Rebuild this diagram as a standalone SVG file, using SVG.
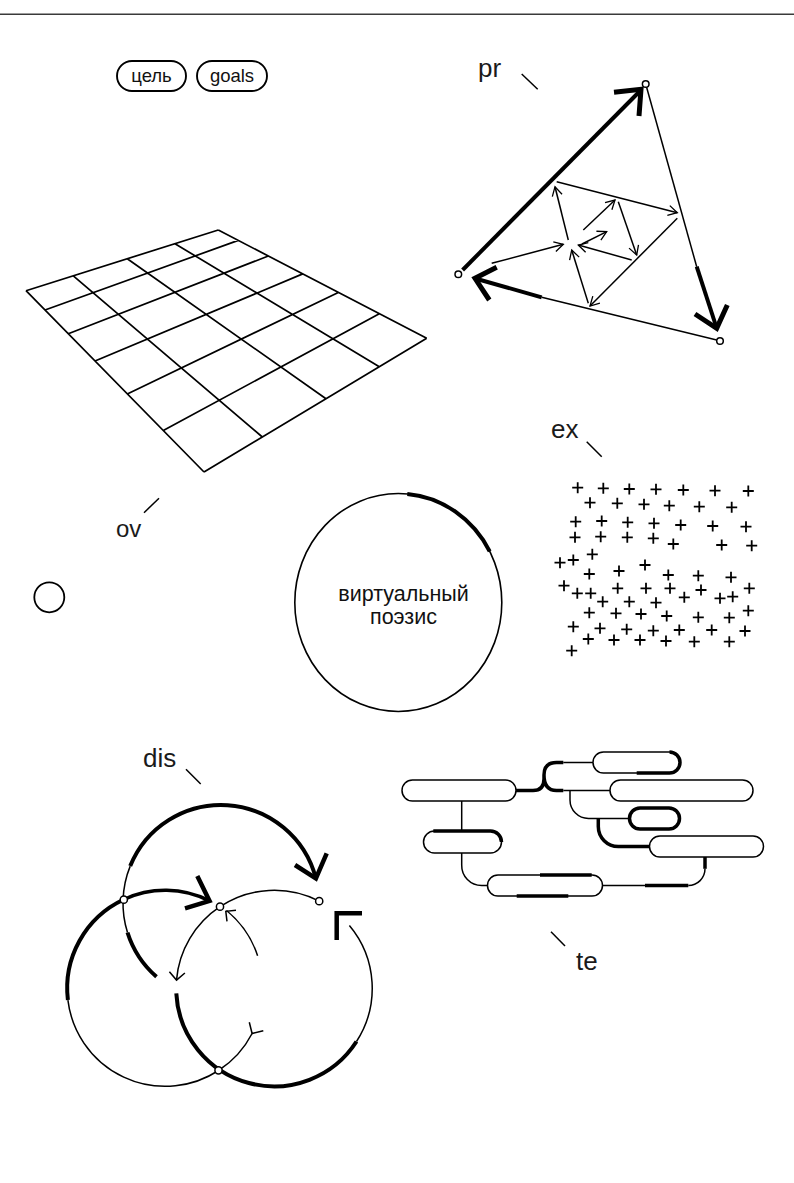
<svg xmlns="http://www.w3.org/2000/svg" xmlns:xlink="http://www.w3.org/1999/xlink" width="794" height="1183" viewBox="0 0 794 1183">
<style>
.t{fill:none;stroke:#000;stroke-width:1.5;stroke-linecap:butt}
.k{fill:none;stroke:#000;stroke-width:4;stroke-linecap:butt}
.k35{fill:none;stroke:#000;stroke-width:3.5;stroke-linecap:butt}
.h{fill:none;stroke:#000;stroke-width:4.5;stroke-linejoin:miter;stroke-linecap:butt}
.n{fill:#fff;stroke:#000;stroke-width:1.5}
.lbl{font-family:"Liberation Sans",Arial,sans-serif;font-size:26px;fill:#1a1a1a}
.pl{font-family:"Liberation Sans",Arial,sans-serif;font-size:18.5px;fill:#111;text-anchor:middle}
.pill{fill:#fff;stroke:#000;stroke-width:1.5}
.pillb{fill:#fff;stroke:#000;stroke-width:1.9}
.pillk{fill:#fff;stroke:#000;stroke-width:3.5}
.grid{fill:none;stroke:#000;stroke-width:1.7}
</style>
<defs>
<marker id="ah" markerUnits="userSpaceOnUse" markerWidth="14" markerHeight="14" viewBox="-11 -7 12 14" refX="0" refY="0" orient="auto">
<path d="M-9,-5 L0,0 L-9,5" fill="none" stroke="#000" stroke-width="1.3"/>
</marker>
<path id="plus" d="M-5.5,0 H5.5 M0,-5.5 V5.5" fill="none" stroke="#000" stroke-width="1.8"/>
</defs>

<rect width="794" height="1183" fill="#fff"/>
<g id="top-rule"><line x1="0" y1="14.3" x2="794" y2="14.3" stroke="#3a3a3a" stroke-width="1.4"/></g>

<g id="pill-cel">
<rect x="117" y="61" width="69" height="30" rx="15" class="pillb"/>
<text x="151.5" y="82" class="pl">цель</text>
</g>
<g id="pill-goals">
<rect x="197" y="61" width="70" height="30" rx="15" class="pillb"/>
<text x="232" y="81.5" class="pl">goals</text>
</g>

<g id="label-pr">
<text x="478" y="77" class="lbl">pr</text>
<line x1="521.7" y1="74" x2="537.7" y2="89.3" class="t"/>
</g>

<g id="pr-diagram">
<path d="M462.6,270 L639.5,91.5" class="k"/>
<path d="M614,92.3 L641,89.3 L639,116" class="h" style="stroke-width:5"/>
<path d="M646.6,87.3 L696.7,266.7" class="t"/>
<path d="M696.7,266.7 L716,326" class="k"/>
<path d="M695,314 L716.7,328.3 L727.3,305" class="h" style="stroke-width:5"/>
<path d="M716.7,340 L541.7,297.3" class="t"/>
<path d="M541.7,297.3 L477,279" class="k"/>
<path d="M496.7,267.3 L475,278.3 L489.3,300" class="h" style="stroke-width:5"/>
<circle cx="645.7" cy="84" r="3.3" class="n"/>
<circle cx="458.3" cy="274.3" r="3.3" class="n"/>
<circle cx="720" cy="341" r="3.3" class="n"/>
</g>

<g id="pr-arrows">
<path d="M556.7,181.7 L677.3,212.7" class="t" marker-end="url(#ah)"/>
<path d="M677.3,218.3 L590,306" class="t" marker-end="url(#ah)"/>
<path d="M588.3,303.3 L571.7,250" class="t" marker-end="url(#ah)"/>
<path d="M568.3,240 L555,186.7" class="t" marker-end="url(#ah)"/>
<path d="M491.7,263.3 L563.3,244.3" class="t" marker-end="url(#ah)"/>
<path d="M583.3,230 L615,200" class="t" marker-end="url(#ah)"/>
<path d="M618.3,201.7 L636.7,255" class="t" marker-end="url(#ah)"/>
<path d="M631.7,260 L578.3,245" class="t" marker-end="url(#ah)"/>
<path d="M582,244 L606.7,231.7" class="t" marker-end="url(#ah)"/>
</g>

<g id="grid">
<path class="grid" d="M26,290.7 L218.3,230 M45,310 L238.3,240.4 M68.3,333.8 L268.3,256 M95,361 L302.7,273.9 M127.3,393.9 L338.3,292.4 M163.3,430.5 L379.3,313.7 M204,472 L426.7,338.3 M26,290.7 L204,472 M73.3,275.8 L262.3,437 M127.3,258.7 L326,398.8 M175,243.7 L379.3,366.8 M218.3,230 L426.7,338.3"/>
</g>

<g id="label-ov">
<text x="116" y="536.5" class="lbl" style="font-size:24px">ov</text>
<line x1="144" y1="512.7" x2="159" y2="498.3" class="t"/>
</g>
<g id="small-circle"><circle cx="49.3" cy="597.3" r="15" fill="none" stroke="#000" stroke-width="1.8"/></g>

<g id="main-circle">
<ellipse cx="398.3" cy="602.5" rx="103.5" ry="109" fill="none" stroke="#000" stroke-width="1.6"/>
<path d="M407.3,493.9 A103.5,109 0 0 1 489.7,551.3" class="k"/>
<text x="403.5" y="601" font-family="'Liberation Sans',Arial,sans-serif" font-size="21.5" text-anchor="middle" fill="#111">виртуальный</text>
<text x="403.5" y="624" font-family="'Liberation Sans',Arial,sans-serif" font-size="21.5" text-anchor="middle" fill="#111">поэзис</text>
</g>

<g id="label-ex">
<text x="551" y="438" class="lbl">ex</text>
<line x1="586.7" y1="441.7" x2="601.7" y2="456.7" class="t"/>
</g>

<g id="ex-field">
<use href="#plus" x="577.7" y="487.7"/><use href="#plus" x="603.3" y="488.3"/><use href="#plus" x="629.3" y="489"/><use href="#plus" x="656" y="489.3"/><use href="#plus" x="683.3" y="490"/><use href="#plus" x="715" y="490.7"/><use href="#plus" x="748.3" y="491"/>
<use href="#plus" x="590" y="502.7"/><use href="#plus" x="617.3" y="503.3"/><use href="#plus" x="644" y="504.3"/><use href="#plus" x="669.3" y="505.7"/><use href="#plus" x="699.3" y="506.7"/><use href="#plus" x="731.7" y="507.3"/>
<use href="#plus" x="575.7" y="521.7"/><use href="#plus" x="601.7" y="521"/><use href="#plus" x="627.7" y="522.3"/><use href="#plus" x="654" y="523.3"/><use href="#plus" x="680.7" y="525"/><use href="#plus" x="712.7" y="526"/><use href="#plus" x="746" y="526.7"/>
<use href="#plus" x="575" y="537.3"/><use href="#plus" x="600.7" y="536.7"/><use href="#plus" x="627.3" y="537.3"/><use href="#plus" x="653.3" y="538.3"/><use href="#plus" x="673.3" y="544"/><use href="#plus" x="721.7" y="545"/><use href="#plus" x="751.7" y="545.7"/>
<use href="#plus" x="560" y="562.7"/><use href="#plus" x="573.3" y="560"/><use href="#plus" x="592.3" y="554.3"/><use href="#plus" x="645" y="565"/>
<use href="#plus" x="589.3" y="574"/><use href="#plus" x="619" y="571"/><use href="#plus" x="668.3" y="575"/><use href="#plus" x="698.3" y="575.7"/><use href="#plus" x="731" y="577.3"/>
<use href="#plus" x="564" y="585.7"/><use href="#plus" x="577.3" y="593.3"/><use href="#plus" x="590.7" y="593.3"/><use href="#plus" x="602.7" y="601.7"/><use href="#plus" x="617.7" y="588.3"/><use href="#plus" x="629.3" y="601.7"/><use href="#plus" x="646" y="588.3"/><use href="#plus" x="656" y="602.7"/><use href="#plus" x="670" y="588.3"/><use href="#plus" x="684.3" y="597.3"/><use href="#plus" x="701" y="590"/><use href="#plus" x="720" y="598.3"/><use href="#plus" x="732.7" y="596.7"/><use href="#plus" x="749.3" y="588.3"/>
<use href="#plus" x="589.3" y="612.7"/><use href="#plus" x="616" y="613.3"/><use href="#plus" x="641" y="614"/><use href="#plus" x="666.7" y="616"/><use href="#plus" x="698.3" y="617.3"/><use href="#plus" x="729.3" y="617.7"/><use href="#plus" x="748.3" y="610.7"/>
<use href="#plus" x="573.3" y="626.7"/><use href="#plus" x="600" y="628.3"/><use href="#plus" x="626.7" y="629.3"/><use href="#plus" x="653.3" y="630.7"/><use href="#plus" x="679.3" y="630"/><use href="#plus" x="711.7" y="630"/><use href="#plus" x="745" y="631"/>
<use href="#plus" x="588.3" y="639"/><use href="#plus" x="614" y="640"/><use href="#plus" x="640" y="640"/><use href="#plus" x="666" y="641"/><use href="#plus" x="694.3" y="641.7"/><use href="#plus" x="729.3" y="641.7"/>
<use href="#plus" x="571.7" y="650.7"/>
</g>

<g id="label-dis">
<text x="143" y="766.5" class="lbl">dis</text>
<line x1="186" y1="769.3" x2="200.7" y2="784" class="t"/>
</g>

<g id="dis-diagram">
<path d="M123.05,899.9 A98,98 0 0 1 130.2,866.1" class="t"/>
<path d="M130.2,866.1 A98,98 0 0 1 315.9,878.5" class="k"/>
<path d="M295,865 L315.9,878.5 L326.7,853.3" class="h"/>
<path d="M123.05,899.9 A98,98 0 0 0 127.5,932.5" class="t"/>
<path d="M127.5,932.5 A98,98 0 0 0 156.5,976.8" class="k"/>
<path d="M123.8,899.5 A98,98 0 0 1 209.5,900.9" class="k35"/>
<path d="M197.3,876 L209.5,900.9 L185,908.3" class="h"/>
<path d="M123.8,899.5 A98,98 0 0 0 67.9,1000.1" class="k"/>
<path d="M67.9,1000.1 A98,98 0 0 0 218.6,1070.5" class="t"/>
<path d="M218.6,1070.5 A98,98 0 0 0 252.1,1033.5" class="t"/>
<path d="M249.3,1022.3 L252.1,1033.5 L263.3,1030.7" class="t"/>
<path d="M257.6,955.7 A98,98 0 0 0 226.5,910.5" class="t"/>
<path d="M236,910.2 L225.8,911.3 L227,921.3" class="t"/>
<path d="M220,906.7 A98,98 0 0 1 319.2,901.2" class="t"/>
<path d="M220,906.7 A98,98 0 0 0 176.5,980.1" class="t"/>
<path d="M169.4,971.7 L176.5,980.1 L184.9,973" class="t"/>
<path d="M176.3,993.3 A98,98 0 0 0 356.5,1041.5" class="k"/>
<path d="M356.5,1041.5 A98,98 0 0 0 349.4,925.4" class="t"/>
<path d="M362,913.3 L336.7,913.3 L336.7,940" class="h"/>
<circle cx="123.8" cy="899.7" r="3.6" class="n"/>
<circle cx="220" cy="906.7" r="3.6" class="n"/>
<circle cx="319.2" cy="901.2" r="3.6" class="n"/>
<circle cx="218.5" cy="1070.3" r="3.6" class="n"/>
</g>

<g id="te-connectors">
<path d="M461.7,801 V831" class="t"/>
<path d="M461.7,852 V865 A20,20 0 0 0 481.7,885.5 H487.5" class="t"/>
<path d="M602.5,885.5 H645" class="t"/>
<path d="M645,885.5 H688.3" class="k35"/>
<path d="M688.3,885.5 A16.7,16.7 0 0 0 705,868.8" class="t"/>
<path d="M705,868.8 V857" class="k35"/>
<path d="M516,790.5 H533 Q544,790.5 544,779 V775 Q544,762.5 556.5,762.5 H563.3 M544,775 Q544,790.5 556.5,790.5 H563.3" class="k35"/>
<path d="M563.3,762.5 H593 M563.3,790.5 H610" class="t"/>
<path d="M570,790.5 V800 A18.5,18.5 0 0 0 588.5,818.5 H629.5" class="t"/>
<path d="M598.3,818.5 V826.5 A20,20 0 0 0 618.3,846.5 H649.5" class="k35"/>
</g>

<g id="te-p1"><rect x="402" y="780" width="114" height="21" rx="10.5" class="pill"/></g>
<g id="te-p2"><rect x="593" y="752" width="87" height="21" rx="10.5" class="pill"/>
<path d="M636.7,773 H669.5 A10.5,10.5 0 0 0 669.5,752" class="k35"/></g>
<g id="te-p3"><rect x="610" y="780" width="143" height="21" rx="10.5" class="pill"/></g>
<g id="te-p4"><rect x="629.5" y="808" width="50" height="21" rx="10.5" class="pillk"/></g>
<g id="te-p5"><rect x="649.5" y="836" width="114" height="21" rx="10.5" class="pill"/></g>
<g id="te-p6"><rect x="423.5" y="831" width="78" height="22" rx="11" class="pill"/>
<path d="M433.3,831 H490.5 A11,11 0 0 1 501.5,842" class="k35"/></g>
<g id="te-p7"><rect x="487.5" y="875" width="115" height="21" rx="10.5" class="pill"/>
<path d="M540,875 H591.7 M516.7,896 H568.3" class="k35"/></g>

<g id="label-te">
<text x="576" y="970" class="lbl">te</text>
<line x1="551" y1="931.7" x2="565" y2="946" class="t"/>
</g>
</svg>
